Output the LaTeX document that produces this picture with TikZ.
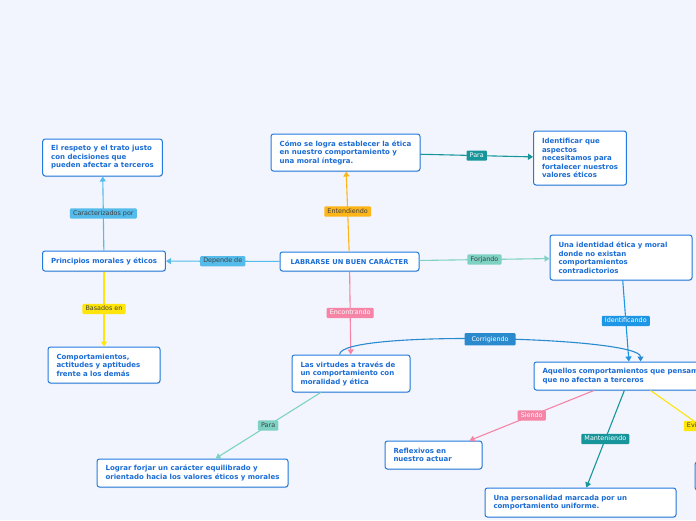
\documentclass[tikz,border=0pt]{standalone}
\usepackage{fontspec}
\setmainfont{DejaVu Sans}
\usetikzlibrary{arrows.meta,shadows}
\definecolor{paper}{RGB}{242,245,253}
\definecolor{ideablue}{RGB}{33,122,222}
\definecolor{ideatext}{RGB}{26,108,212}
\definecolor{orangeE}{RGB}{253,181,24}
\definecolor{tealD}{RGB}{22,150,155}
\definecolor{tealL}{RGB}{126,210,196}
\definecolor{skyL}{RGB}{84,187,235}
\definecolor{yellowB}{RGB}{255,229,10}
\definecolor{pinkE}{RGB}{245,132,166}
\definecolor{blueI}{RGB}{30,150,230}
\definecolor{blueC}{RGB}{42,138,205}
\definecolor{tagdark}{RGB}{64,64,64}
\tikzset{
	idea/.style={draw=ideablue, fill=white, line width=1pt, rounded corners=2.5pt,
		text=ideatext, font=\fontsize{7}{8.5}\selectfont\bfseries, align=left,
		inner xsep=8.5pt, inner ysep=3pt,
		drop shadow={shadow xshift=0.5pt, shadow yshift=-1pt, opacity=0.18}},
	tag/.style={rounded corners=1pt, inner xsep=3.2pt, inner ysep=2pt,
		font=\fontsize{6.4}{7}\selectfont, text height=4.8pt, text depth=1.3pt, text=tagdark},
	link/.style={line width=1.1pt, -{Triangle[length=5pt,width=6pt]}}
}
\begin{document}
\begin{tikzpicture}[x=1pt, y=-1pt]
	%frame
	\fill[paper] (0,0) rectangle (696,520);
	\useasboundingbox (0,0) rectangle (696,520);
	\clip (0,0) rectangle (696,520);
	%nodes
	\node[idea, align=center, minimum width=139pt, minimum height=19pt, font=\fontsize{6.7}{8.5}\selectfont\bfseries] (central) at (349.5,261.5) {LABRARSE UN BUEN CARÁCTER};
	\node[idea, minimum width=149pt, minimum height=37pt] (howto) at (345.5,152.5) {Cómo se logra establecer la ética\\en nuestro comportamiento y\\una moral íntegra.};
	\node[idea, minimum width=92pt, minimum height=54pt] (identify) at (580,158) {Identificar que\\aspectos\\necesitamos para\\fortalecer nuestros\\valores éticos};
	\node[idea, text width=125pt, minimum height=45pt] (identity) at (621,257.5) {Una identidad ética y moral\\donde no existan\\comportamientos\\contradictorios};
	\node[idea, text width=175pt, minimum height=28pt] (those) at (630,376) {Aquellos comportamientos que pensamos\\que no afectan a terceros};
	\node[idea, text width=101pt, minimum height=37pt] (virtues) at (351,373.5) {Las virtudes a través de\\un comportamiento con\\moralidad y ética};
	\node[idea, align=center, minimum width=120pt, minimum height=20pt] (principles) at (104,261) {Principios morales y éticos};
	\node[idea, minimum width=119pt, minimum height=37pt] (respect) at (102.5,157.5) {El respeto y el trato justo\\con decisiones que\\pueden afectar a terceros};
	\node[idea, text width=95pt, minimum height=36pt] (behaviors) at (104,365) {Comportamientos,\\actitudes y aptitudes\\frente a los demás};
	\node[idea, minimum width=191pt, minimum height=28pt] (forge) at (192.5,473) {Lograr forjar un carácter equilibrado y\\orientado hacia los valores éticos y morales};
	\node[idea, text width=80pt, minimum height=28pt] (reflexive) at (433.5,455) {Reflexivos en\\nuestro actuar};
	\node[idea, text width=174pt, minimum height=29pt] (personality) at (580.5,502.5) {Una personalidad marcada por un\\comportamiento uniforme.};
	\node[idea, text width=137pt, minimum height=28pt] (hidden) at (772,476) {};
	%links
	\draw[link, orangeE] (central) -- node[tag, fill=orangeE] {Entendiendo} (howto);
	\draw[link, tealD] (howto) -- node[tag, fill=tealD, text=white] {Para} (identify);
	\draw[link, tealL] (central) -- node[tag, fill=tealL] {Forjando} (identity);
	\draw[link, skyL] (central) -- node[tag, fill=skyL] {Depende de} (principles);
	\draw[link, skyL] (principles) -- node[tag, fill=skyL] {Caracterizados por} (respect);
	\draw[link, yellowB] (principles) -- node[tag, fill=yellowB] {Basados en} (behaviors);
	\draw[link, pinkE] (central) -- node[tag, fill=pinkE, text=white] {Encontrando} (virtues);
	\draw[link, tealL] (virtues) -- node[tag, fill=tealL] {Para} (forge);
	\draw[link, blueI] (identity) -- node[tag, fill=blueI, text=white] {Identificando} (those);
	\draw[link, blueC] (virtues.121) .. controls +(0,-25) and +(0,-25) .. node[tag, fill=blueC, text=white, inner xsep=7pt, inner ysep=3pt] {Corrigiendo} (those.54);
	\draw[link, pinkE] (those) -- node[tag, fill=pinkE, text=white] {Siendo} (reflexive);
	\draw[link, tealD] (those) -- node[tag, fill=tealD, text=white] {Manteniendo} (personality);
	\draw[link, yellowB] (those) -- node[tag, fill=yellowB] {Evitando} (hidden);
\end{tikzpicture}
\end{document}
